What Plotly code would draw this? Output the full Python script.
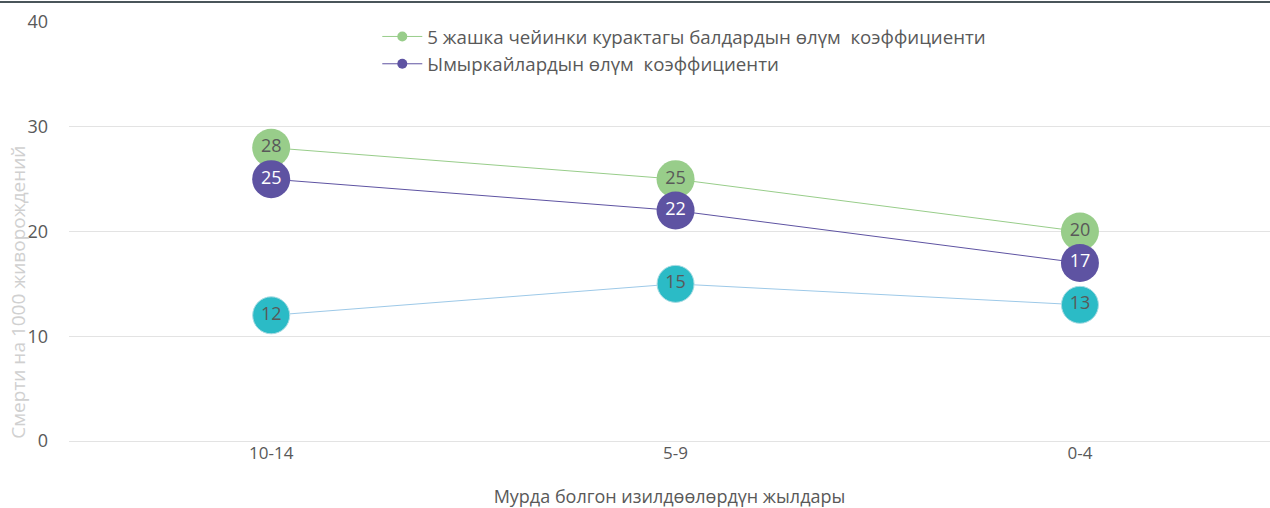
"""Mortality rates by survey period, rebuilt with Plotly."""

import plotly.graph_objects as go

periods = ["10-14", "5-9", "0-4"]
under5_rate = [28, 25, 20]
infant_rate = [25, 22, 17]
third_rate = [12, 15, 13]

under5_name = "5 жашка чейинки курактагы балдардын өлүм  коэффициенти"
infant_name = "Ымыркайлардын өлүм  коэффициенти"

TEXT_GREY = "#595959"
FONT = "Open Sans"
GREEN = "#98CD8A"
PURPLE = "#5E53A2"

fig = go.Figure()

# teal series has no legend entry in the original
fig.add_trace(
    go.Scatter(
        x=periods,
        y=third_rate,
        mode="lines+markers+text",
        showlegend=False,
        line=dict(color="#9DC9E8", width=1),
        marker=dict(color="#2BBBC6", size=37, line=dict(color="#a8dbe3", width=1)),
        text=[str(v) for v in third_rate],
        textposition="middle center",
        textfont=dict(color=TEXT_GREY, size=18, family=FONT),
        cliponaxis=False,
    )
)
fig.add_trace(
    go.Scatter(
        x=periods,
        y=under5_rate,
        showlegend=False,
        mode="lines+markers+text",
        line=dict(color=GREEN, width=1),
        marker=dict(color=GREEN, size=38),
        text=[str(v) for v in under5_rate],
        textposition="middle center",
        textfont=dict(color=TEXT_GREY, size=18, family=FONT),
        cliponaxis=False,
    )
)
fig.add_trace(
    go.Scatter(
        x=periods,
        y=infant_rate,
        showlegend=False,
        mode="lines+markers+text",
        line=dict(color=PURPLE, width=1),
        marker=dict(color=PURPLE, size=38),
        text=[str(v) for v in infant_rate],
        textposition="middle center",
        textfont=dict(color="white", size=18, family=FONT),
        cliponaxis=False,
    )
)

# legend-only entries so the key shows a thin line with a small dot
for name, color in [(under5_name, GREEN), (infant_name, PURPLE)]:
    fig.add_trace(
        go.Scatter(
            x=[None],
            y=[None],
            name=name,
            mode="lines+markers",
            line=dict(color=color, width=1),
            marker=dict(color=color, size=10),
        )
    )

fig.update_layout(
    width=1270,
    height=508,
    margin=dict(l=69, r=0, t=22, b=67, autoexpand=False),
    plot_bgcolor="white",
    paper_bgcolor="white",
    font=dict(family=FONT, color=TEXT_GREY, size=16),
    legend=dict(
        x=0.2567,
        y=1.01,
        xanchor="left",
        yanchor="top",
        bgcolor="rgba(0,0,0,0)",
        font=dict(size=18.7, color=TEXT_GREY),
        itemwidth=40,
        tracegroupgap=0,
    ),
    xaxis=dict(
        type="category",
        range=[-0.5, 2.47],
        showgrid=False,
        zeroline=False,
        showline=False,
        ticks="",
        automargin=False,
        tickfont=dict(size=17, color=TEXT_GREY),
        title=dict(
            text="Мурда болгон изилдөөлөрдүн жылдары",
            font=dict(size=18, color=TEXT_GREY),
            standoff=28,
        ),
    ),
    yaxis=dict(
        range=[0, 40],
        tickvals=[0, 10, 20, 30, 40],
        showgrid=True,
        gridcolor="#e3e3e3",
        gridwidth=1,
        zeroline=True,
        zerolinecolor="#e3e3e3",
        zerolinewidth=1,
        showline=False,
        ticks="",
        automargin=False,
        ticklabelstandoff=20,
        tickfont=dict(size=18, color=TEXT_GREY),
    ),
    annotations=[
        dict(
            text="Смерти на 1000 живорождений",
            xref="paper",
            yref="paper",
            x=-0.0425,
            y=0.356,
            xanchor="center",
            yanchor="middle",
            textangle=-90,
            showarrow=False,
            font=dict(size=19, color="#d0d0d0"),
        )
    ],
    shapes=[
        dict(
            type="line",
            xref="paper",
            yref="paper",
            x0=-0.06,
            x1=1.0,
            y0=1.048,
            y1=1.048,
            line=dict(color="#4a555a", width=2),
        )
    ],
)

fig.write_html(
    "out.html",
    config={"displayModeBar": False},
    post_script="document.body.style.margin = '0';",
)
